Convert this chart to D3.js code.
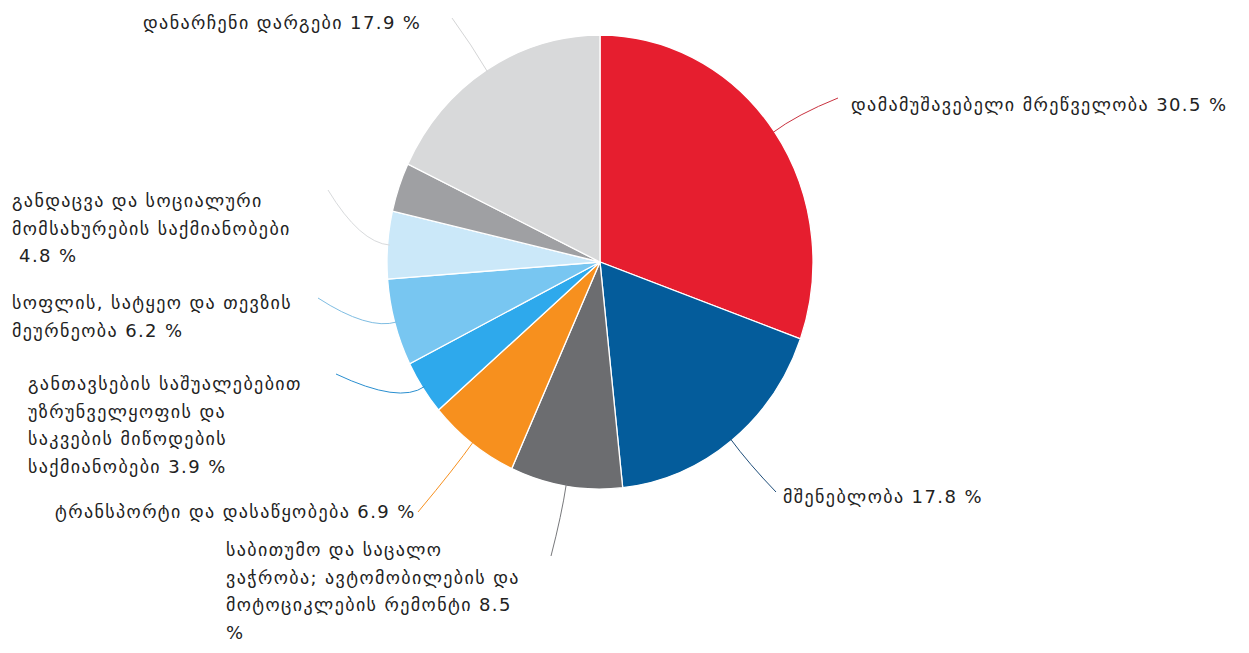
<!DOCTYPE html>
<html><head><meta charset="utf-8">
<script src="https://cdn.jsdelivr.net/npm/d3@7"></script>
<style>
html,body{margin:0;padding:0;background:#fff;}
svg{display:block;}
text{font-family:"DejaVu Sans",sans-serif;font-size:18px;letter-spacing:1.4px;fill:#222;}
</style></head><body>
<svg id="c" width="1249" height="653"></svg>
<script>
// ---- data ----
const categories = [
  ["დამამუშავებელი მრეწველობა 30.5 %"],
  ["მშენებლობა 17.8 %"],
  ["საბითუმო და საცალო", "ვაჭრობა; ავტომობილების და", "მოტოციკლების რემონტი 8.5", "%"],
  ["ტრანსპორტი და დასაწყობება 6.9 %"],
  ["განთავსების საშუალებებით", "უზრუნველყოფის და", "საკვების მიწოდების", "საქმიანობები 3.9 %"],
  ["სოფლის, სატყეო და თევზის", "მეურნეობა 6.2 %"],
  ["განდაცვა და სოციალური", "მომსახურების საქმიანობები", " 4.8 %"],
  [],
  ["დანარჩენი დარგები 17.9 %"]
];
const values = [30.5, 17.8, 8.5, 6.9, 3.9, 6.2, 4.8, 3.5, 17.9];
const colors = ["#E61E2F", "#045C9B", "#6C6D70", "#F7901E", "#2EA9EC", "#78C6F1", "#CBE8F9", "#9FA0A3", "#D8D9DA"];
const leaderColors = ["#C9323F", "#1F4E7A", "#77787B", "#F7901E", "#2A8FD0", "#7FBDE2", "#D8DADC", "#bbb", "#D4D5D6"];
// ---- layout (label placement) ----
const labelLayout = [
  {x: 851, y: 104, end: [838, 98]},
  {x: 783, y: 496, end: [776, 492]},
  {x: 226, y: 549, end: [551, 556]},
  {x: 55,  y: 511, end: [418, 512]},
  {x: 28,  y: 383, end: [336, 374]},
  {x: 12,  y: 302, end: [318, 298]},
  {x: 12,  y: 200, end: [328, 190]},
  null,
  {x: 143, y: 22,  end: [452, 18]}
];

const cx = 600, cy = 262, rx = 213, ry = 227;
const svg = d3.select("#c");

const pie = d3.pie().sort(null).value(d => d)(values);
const arc = d3.arc().innerRadius(0).outerRadius(rx);

const g = svg.append("g").attr("transform", `translate(${cx},${cy}) scale(1,${ry/rx})`);
g.selectAll("path").data(pie).join("path")
  .attr("d", arc)
  .attr("fill", (d,i) => colors[i])
  .attr("stroke", "#fff")
  .attr("stroke-width", 1.3)
  .attr("vector-effect", "non-scaling-stroke");

// leaders
const ptAt = (a, k) => [cx + rx*k*Math.sin(a), cy - ry*k*Math.cos(a)];
pie.forEach((d, i) => {
  const L = labelLayout[i];
  if (!L) return;
  const mid = (d.startAngle + d.endAngle) / 2;
  const s = ptAt(mid, 0.99);
  const c = ptAt(mid, 1.13);
  const p = d3.path();
  p.moveTo(s[0], s[1]);
  p.quadraticCurveTo(c[0], c[1], L.end[0], L.end[1]);
  svg.append("path").attr("d", p.toString())
    .attr("fill", "none").attr("stroke", leaderColors[i]).attr("stroke-width", 1);
});

// labels
categories.forEach((lines, i) => {
  const L = labelLayout[i];
  if (!L) return;
  const t = svg.append("text").attr("x", L.x).attr("y", L.y).attr("dominant-baseline", "central");
  lines.forEach((ln, j) => {
    t.append("tspan").attr("x", L.x).attr("dy", j === 0 ? 0 : 27.5).attr("xml:space","preserve").text(ln);
  });
});
</script></body></html>
